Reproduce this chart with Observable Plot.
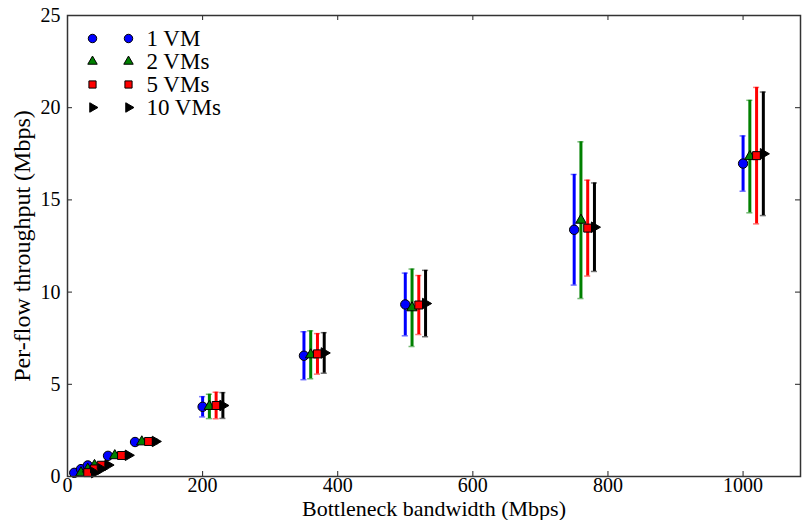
<!DOCTYPE html>
<html><head><meta charset="utf-8">
<script src="https://cdn.jsdelivr.net/npm/d3@7"></script>
<script src="https://cdn.jsdelivr.net/npm/@observablehq/plot@0.6"></script>
<style>body{margin:0;background:#fff} svg text{font-family:"Liberation Serif","Times New Roman",serif}</style>
</head><body><div id="chart"></div>
<script>
// ---- data ----
const bandwidth = [10, 20, 30, 60, 100, 200, 350, 500, 750, 1000];
const seriesNames = ["1 VM", "2 VMs", "5 VMs", "10 VMs"];
const seriesColors = ["#0000ff", "#008000", "#ff0000", "#000000"];
const seriesSymbols = ["circle", "triangle", "square", "triangle"];
const seriesRotate = [0, 0, 0, 90];
const seriesOffset = [0, 10, 20, 30];
const mean1 = [0.20, 0.40, 0.60, 1.12, 1.87, 3.78, 6.55, 9.33, 13.38, 16.97];
const err1 = [0.02, 0.03, 0.04, 0.05, 0.08, 0.55, 1.30, 1.70, 3.00, 1.50];
const mean2 = [0.20, 0.40, 0.60, 1.13, 1.88, 3.80, 6.60, 9.15, 13.90, 17.35];
const err2 = [0.02, 0.03, 0.04, 0.06, 0.10, 0.66, 1.30, 2.10, 4.25, 3.05];
const mean5 = [0.21, 0.41, 0.61, 1.14, 1.90, 3.85, 6.65, 9.30, 13.47, 17.40];
const err5 = [0.02, 0.03, 0.05, 0.06, 0.10, 0.72, 1.10, 1.60, 2.60, 3.70];
const mean10 = [0.21, 0.41, 0.62, 1.15, 1.90, 3.85, 6.70, 9.38, 13.52, 17.50];
const err10 = [0.02, 0.04, 0.05, 0.07, 0.12, 0.70, 1.10, 1.80, 2.40, 3.35];
const xTicks = [0, 200, 400, 600, 800, 1000];
const yTicks = [0, 5, 10, 15, 20, 25];
const xLabel = "Bottleneck bandwidth (Mbps)";
const yLabel = "Per-flow throughput (Mbps)";

const means = [mean1, mean2, mean5, mean10];
const errs = [err1, err2, err5, err10];
const rows = [];
seriesNames.forEach((s, i) => bandwidth.forEach((b, j) => rows.push({
  series: i, x: b + seriesOffset[i], y: means[i][j],
  lo: means[i][j] - errs[i][j], hi: means[i][j] + errs[i][j]
})));

// ---- layout ----
const W = 802, H = 520, mL = 67, mR = 2, mT = 15, mB = 44;
const innerW = W - mL - mR, innerH = H - mT - mB;
const capHalf = 4.5;
const markerR = [4.7, 3.9, 4.5, 3.9];
const serif = "'Liberation Serif', 'Times New Roman', serif";

const marks = [];
marks.push(Plot.tickX(xTicks, {x: d => d, insetTop: innerH - 5, stroke: "#222"}));
marks.push(Plot.tickX(xTicks, {x: d => d, insetBottom: innerH - 5, stroke: "#222"}));
marks.push(Plot.tickY(yTicks, {y: d => d, insetRight: innerW - 5, stroke: "#222"}));
marks.push(Plot.tickY(yTicks, {y: d => d, insetLeft: innerW - 5, stroke: "#222"}));
marks.push(Plot.axisX(xTicks, {tickSize: 0, tickPadding: 1, fontSize: 20, fontFamily: serif, label: null, tickFormat: d => String(d)}));
marks.push(Plot.axisY(yTicks, {tickSize: 0, tickPadding: 7, fontSize: 20, fontFamily: serif, label: null, tickFormat: d => String(d)}));

seriesNames.forEach((name, i) => {
  const d = rows.filter(r => r.series === i);
  const c = seriesColors[i];
  marks.push(Plot.ruleX(d, {x: "x", y1: "lo", y2: "hi", stroke: c, strokeWidth: 3}));
  marks.push(Plot.ruleY(d, {x1: r => r.x - capHalf, x2: r => r.x + capHalf, y: "lo", stroke: c, strokeWidth: 1.5, strokeOpacity: 0.55}));
  marks.push(Plot.ruleY(d, {x1: r => r.x - capHalf, x2: r => r.x + capHalf, y: "hi", stroke: c, strokeWidth: 1.5, strokeOpacity: 0.55}));
  marks.push(Plot.dot(d, {x: "x", y: "y", symbol: seriesSymbols[i], rotate: seriesRotate[i], r: markerR[i], fill: c, stroke: "#000", strokeWidth: 1}));
});

// legend (inside, top-left)
seriesNames.forEach((name, i) => {
  const c = seriesColors[i];
  const dy = 23 + i * 23;
  [25, 61].forEach(dx => marks.push(Plot.dot([0], {frameAnchor: "top-left", dx, dy, symbol: seriesSymbols[i], rotate: seriesRotate[i], r: markerR[i] * 0.9, fill: c, stroke: "#000", strokeWidth: 1})));
  marks.push(Plot.text([name], {frameAnchor: "top-left", dx: 79, dy, text: d => d, textAnchor: "start", lineAnchor: "middle", fontSize: 23, fontFamily: serif, fill: "#000"}));
});

marks.push(Plot.text([xLabel], {frameAnchor: "bottom", dy: 32.5, text: d => d, textAnchor: "middle", lineAnchor: "middle", fontSize: 22, fontFamily: serif, fill: "#000"}));
marks.push(Plot.text([yLabel], {frameAnchor: "left", dx: -45, rotate: -90, text: d => d, textAnchor: "middle", lineAnchor: "middle", fontSize: 24, fontFamily: serif, fill: "#000"}));
marks.push(Plot.frame({stroke: "#333", strokeWidth: 1.5}));

const chart = Plot.plot({
  width: W, height: H,
  marginLeft: mL, marginRight: mR, marginTop: mT, marginBottom: mB,
  x: {domain: [0, 1085]},
  y: {domain: [0, 25]},
  style: {fontFamily: serif, fontSize: "20px", background: "#fff", color: "#000"},
  marks
});
document.getElementById("chart").appendChild(chart);
</script>
</body></html>
